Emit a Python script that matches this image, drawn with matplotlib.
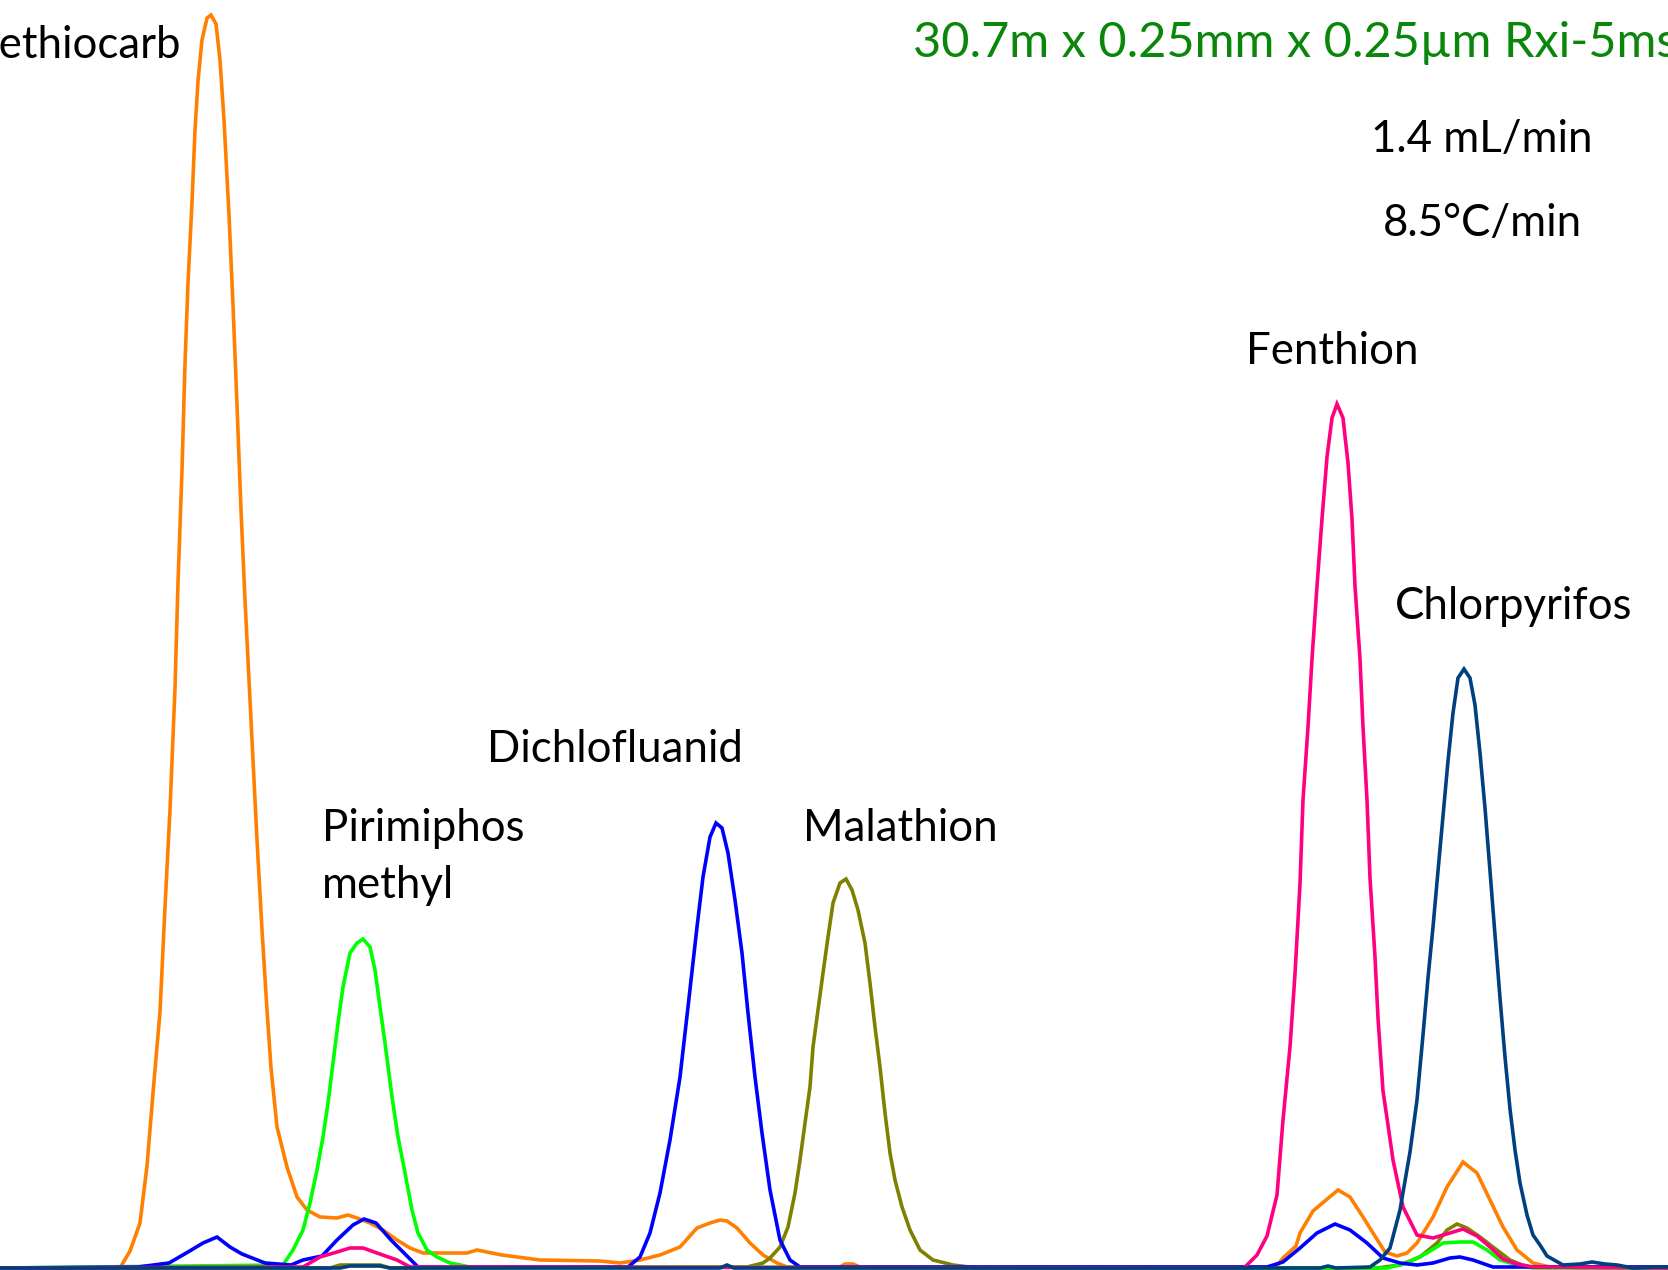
import matplotlib
matplotlib.use("Agg")
import matplotlib.pyplot as plt

# chromatogram traces: (scan, abundance) pairs
methiocarb = [(0, 0), (120, 0), (130, 17), (140, 45), (147, 102), (153, 175), (160, 256), (165, 361),
              (170, 458), (175, 580), (178, 685), (182, 798), (185, 904), (188, 985), (192, 1066),
              (195, 1138), (198, 1187), (202, 1228), (207, 1250), (211, 1253), (216, 1244), (220, 1208),
              (224, 1148), (229, 1053), (233, 963), (237, 863), (241, 758), (245, 668), (249, 588),
              (253, 508), (257, 428), (262, 338), (267, 258), (271, 200), (277, 141), (287, 101),
              (297, 71), (307, 58), (320, 51), (337, 50), (348, 53), (357, 50), (370, 45), (383, 38),
              (397, 28), (410, 20), (423, 15), (467, 15), (477, 18), (502, 13), (540, 8), (600, 7),
              (620, 5), (640, 8), (660, 13), (680, 21), (697, 40), (710, 45), (720, 48), (727, 47),
              (737, 40), (750, 25), (763, 13), (777, 5), (787, 1), (840, 1), (845, 4), (853, 4),
              (860, 1), (1276, 1), (1283, 10), (1296, 22), (1300, 35), (1313, 57), (1326, 68),
              (1338, 78), (1350, 71), (1363, 51), (1373, 35), (1385, 16), (1397, 12), (1407, 15),
              (1417, 25), (1433, 51), (1447, 81), (1463, 106), (1477, 95), (1490, 68), (1503, 41),
              (1517, 18), (1533, 5), (1550, 1), (1668, 1)]

dichlofluanid = [(0, 0), (138, 1), (169, 5), (188, 16), (203, 25), (217, 31), (230, 21), (242, 14),
                 (265, 5), (291, 3), (303, 8), (322, 12), (337, 28), (353, 43), (364, 49), (376, 45),
                 (391, 28), (406, 13), (418, 1), (628, 1), (640, 11), (650, 35), (660, 75), (670, 128),
                 (680, 191), (688, 261), (697, 341), (703, 391), (710, 431), (716, 445), (722, 440),
                 (728, 415), (735, 368), (742, 315), (748, 255), (755, 191), (762, 135), (770, 78),
                 (780, 28), (790, 8), (800, 1), (1267, 1), (1283, 6), (1300, 20), (1317, 35),
                 (1335, 44), (1350, 38), (1367, 25), (1383, 10), (1400, 5), (1417, 3), (1433, 5),
                 (1450, 10), (1460, 11), (1473, 8), (1493, 1), (1668, 1)]

pirimiphos = [(0, 0), (283, 3), (293, 18), (303, 38), (310, 65), (317, 98), (323, 131), (328, 165),
              (333, 205), (338, 245), (343, 281), (350, 315), (357, 325), (363, 329), (370, 321),
              (375, 298), (380, 261), (385, 225), (392, 171), (398, 131), (405, 95), (412, 58),
              (418, 35), (427, 18), (437, 11), (450, 5), (470, 1), (1387, 0), (1407, 5), (1427, 15),
              (1443, 25), (1460, 26), (1473, 26), (1487, 18), (1500, 8), (1517, 3), (1533, 0),
              (1668, 0)]

fenthion = [(0, 0), (303, 1), (320, 11), (337, 16), (350, 20), (363, 20), (377, 15), (397, 8),
            (410, 1), (1244, 0), (1257, 13), (1267, 32), (1277, 73), (1283, 148), (1290, 221),
            (1295, 294), (1300, 384), (1303, 468), (1308, 541), (1312, 609), (1317, 682), (1322, 749),
            (1327, 811), (1332, 850), (1337, 864), (1343, 850), (1348, 805), (1352, 749), (1355, 682),
            (1360, 609), (1363, 541), (1367, 468), (1370, 390), (1375, 311), (1378, 250), (1383, 177),
            (1388, 143), (1393, 108), (1403, 61), (1417, 33), (1433, 30), (1450, 35), (1463, 39),
            (1477, 32), (1490, 21), (1503, 9), (1517, 4), (1533, 1), (1668, 0)]

malathion = [(0, 0), (330, 0), (340, 3), (380, 3), (390, 0), (747, 1), (763, 5), (770, 10), (780, 21),
             (788, 41), (795, 75), (800, 108), (805, 145), (810, 181), (813, 221), (818, 258),
             (823, 295), (828, 331), (833, 365), (840, 385), (846, 389), (852, 378), (858, 358),
             (865, 325), (870, 285), (875, 241), (880, 201), (885, 155), (890, 115), (895, 88),
             (902, 61), (910, 38), (920, 18), (933, 8), (953, 3), (977, 0), (1377, 0), (1400, 3),
             (1420, 11), (1437, 25), (1447, 38), (1457, 44), (1467, 40), (1480, 31), (1493, 21),
             (1510, 8), (1527, 1), (1668, 0)]

chlorpyrifos = [(0, 0), (340, 0), (350, 2), (380, 2), (390, 0), (720, 0), (727, 3), (734, 0),
                (1320, 0), (1328, 2), (1336, 0), (1370, 1), (1380, 8), (1390, 20), (1400, 58),
                (1410, 116), (1417, 168), (1423, 233), (1428, 290), (1433, 341), (1438, 397),
                (1443, 452), (1448, 507), (1453, 555), (1458, 590), (1464, 599), (1470, 590),
                (1475, 563), (1480, 515), (1485, 460), (1490, 397), (1495, 333), (1500, 270),
                (1505, 211), (1510, 159), (1515, 118), (1520, 85), (1527, 53), (1533, 33), (1540, 23),
                (1547, 12), (1563, 3), (1580, 4), (1592, 6), (1605, 4), (1617, 3), (1633, 0),
                (1657, 1), (1668, 1)]

traces = [
    (methiocarb, "#ff8000"),
    (malathion, "#808000"),
    (pirimiphos, "#00ff00"),
    (dichlofluanid, "#0000ff"),
    (fenthion, "#ff0080"),
    (chlorpyrifos, "#004080"),
]

fig = plt.figure(figsize=(16.68, 12.70), dpi=100)
ax = fig.add_axes([0, 0, 1, 1])
for trace, colour in traces:
    xs = [p[0] for p in trace]
    ys = [p[1] for p in trace]
    ax.plot(xs, ys, color=colour, lw=2.6, solid_joinstyle="miter")

ax.set_xlim(0, 1668)
ax.set_ylim(-2, 1268)
ax.axis("off")

fnt = dict(family="Lato", fontsize=31.5)
# the first label runs off the left edge in the original too
ax.text(181, 1210, "Methiocarb", ha="right", va="baseline", color="black", **fnt)
ax.text(322, 427, "Pirimiphos", ha="left", va="baseline", color="black", **fnt)
ax.text(322, 370, "methyl", ha="left", va="baseline", color="black", **fnt)
ax.text(487, 506, "Dichlofluanid", ha="left", va="baseline", color="black", **fnt)
ax.text(803, 427, "Malathion", ha="left", va="baseline", color="black", **fnt)
ax.text(1246, 904, "Fenthion", ha="left", va="baseline", color="black", **fnt)
ax.text(1395, 649, "Chlorpyrifos", ha="left", va="baseline", color="black", **fnt)
ax.text(1482, 1116, "1.4 mL/min", ha="center", va="baseline", color="black", **fnt)
ax.text(1482, 1032, "8.5°C/min", ha="center", va="baseline", color="black", **fnt)
ax.text(913, 1211, "30.7m x 0.25mm x 0.25µm Rxi-5ms", ha="left", va="baseline",
        color="#0a870a", family="Lato", fontsize=35)

fig.savefig("out.png", dpi=100, facecolor="white")
